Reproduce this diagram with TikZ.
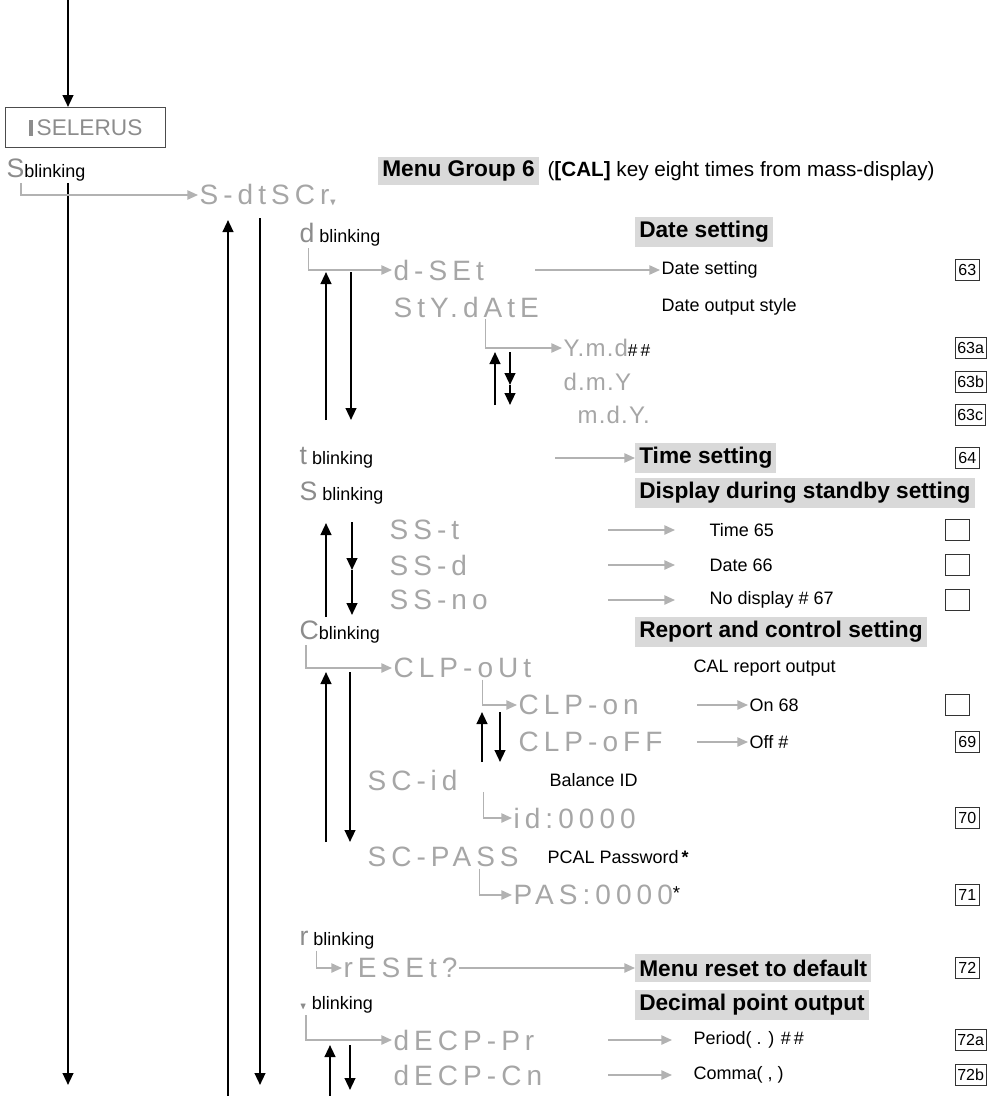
\documentclass[tikz,border=0pt]{standalone}
\usepackage{amssymb}
\usepackage{fontspec}
\setmainfont{Liberation Sans}
\usetikzlibrary{arrows.meta}
\tikzstyle{txt} = [anchor=west, inner sep=1pt, font=\fontsize{13.5}{15}\selectfont]
\tikzstyle{seg} = [anchor=west, inner sep=1pt, text=black!35, font=\fontsize{21}{22}\selectfont\addfontfeatures{LetterSpace=18}]
\tikzstyle{head} = [anchor=west, inner sep=3pt, fill=black!15, font=\fontsize{17}{18}\selectfont\bfseries, minimum height=21pt]
\tikzstyle{num} = [anchor=west, draw=black!80, inner sep=1.5pt, minimum width=18pt, minimum height=16pt, font=\fontsize{12}{13}\selectfont]
\tikzstyle{arrow} = [line width=1.6pt, -{Triangle[length=9pt,width=8pt]}]
\tikzstyle{garrow} = [line width=1.2pt, black!30, -{Triangle[length=8pt,width=7pt]}]

\begin{document}
\begin{tikzpicture}[x=0.75pt, y=-0.75pt]
	\useasboundingbox (0,0) rectangle (1001,1096);
	% left column
	\coordinate (top) at (68,0);
	\node (select) [draw=black!70, line width=1pt, anchor=north west, minimum width=120pt, minimum height=30pt, text=black!45, font=\fontsize{17}{18}\selectfont] at (5,107) {\rule{3pt}{12pt}\,SELERUS};
	\node (sblink) [txt] at (5,170) {\textcolor{black!45}{\fontsize{20}{20}\selectfont S}blinking};
	\coordinate (mainend) at (68,1085);
	\draw [arrow] (top) -- (select.north -| top);
	\draw [arrow] (sblink.south -| top) -- (mainend);
	
	% menu group 6
	\node (menu) [head] at (378,171) {Menu Group 6};
	\node (menunote) [txt, font=\fontsize{15.5}{17}\selectfont] at (546,171) {(\textbf{[CAL]} key eight times from mass-display)};
	\node (dtscr) [seg] at (198,195) {S-dtSCr\raisebox{-1pt}{\scriptsize$\blacktriangledown$}};
	\draw [garrow] ([xshift=12pt]sblink.south west) |- (dtscr.west);
	\coordinate (upa) at (228,1096);
	\coordinate (upb) at (228,220);
	\coordinate (dna) at (260,218);
	\coordinate (dnb) at (260,1085);
	\draw [arrow] (upa) -- (upb);
	\draw [arrow] (dna) -- (dnb);
	
	% date setting
	\node (dblink) [txt] at (298,235) {\textcolor{black!45}{\fontsize{20}{20}\selectfont d} blinking};
	\node (dhead) [head] at (635,232) {Date setting};
	\node (dset) [seg] at (392,270) {d-SEt};
	\node (dsettxt) [txt] at (660,270) {Date setting};
	\node (n63) [num] at (955,270) {63};
	\node (stydate) [seg] at (392,307) {StY.dAtE};
	\node (stytxt) [txt] at (660,307) {Date output style};
	\node (ymd) [seg, font=\fontsize{18}{18}\selectfont\addfontfeatures{LetterSpace=5}] at (562,348) {Y.m.d\textcolor{black}{\fontsize{13}{13}\selectfont\#\,\#}};
	\node (dmy) [seg, font=\fontsize{18}{18}\selectfont\addfontfeatures{LetterSpace=5}] at (562,382) {d.m.Y};
	\node (mdy) [seg, font=\fontsize{18}{18}\selectfont\addfontfeatures{LetterSpace=5}] at (576,415) {m.d.Y.};
	\node (n63a) [num] at (955,348) {63a};
	\node (n63b) [num] at (955,382) {63b};
	\node (n63c) [num] at (955,415) {63c};
	\draw [garrow] ([xshift=8pt]dblink.south west) |- (dset.west);
	\draw [garrow] (535,270) -- (dsettxt.west);
	\draw [garrow] ([xshift=70pt]stydate.south west) |- (ymd.west);
	\draw [arrow] (326,420) -- (326,272);
	\draw [arrow] (351,272) -- (351,420);
	\draw [arrow] (495,405) -- (495,352);
	\draw [arrow] (510,352) -- (510,385);
	\draw [arrow] (510,385) -- (510,405);
	
	% time setting
	\node (tblink) [txt] at (298,458) {\textcolor{black!45}{\fontsize{20}{20}\selectfont t} blinking};
	\node (thead) [head] at (635,458) {Time setting};
	\node (n64) [num] at (955,458) {64};
	\draw [garrow] (555,458) -- (thead.west);
	
	% standby display
	\node (sblink2) [txt] at (298,493) {\textcolor{black!45}{\fontsize{20}{20}\selectfont S} blinking};
	\node (shead) [head] at (635,493) {Display during standby setting};
	\node (sst) [seg] at (388,530) {SS-t};
	\node (ssd) [seg] at (388,565) {SS-d};
	\node (ssno) [seg] at (388,600) {SS-no};
	\node (sstt) [txt] at (708,530) {Time 65};
	\node (ssdt) [txt] at (708,565) {Date 66};
	\node (ssnot) [txt] at (708,600) {No display \# 67};
	\foreach \y in {530,565,600} {
		\node [num] at (945,\y) {};
		\draw [garrow] (608,\y) -- (675,\y);
	}
	\draw [arrow] (326,617) -- (326,523);
	\draw [arrow] (352,522) -- (352,570);
	\draw [arrow] (352,570) -- (352,615);
	
	% report and control
	\node (cblink) [txt] at (298,632) {\textcolor{black!45}{\fontsize{20}{20}\selectfont C}blinking};
	\node (chead) [head] at (635,632) {Report and control setting};
	\node (clpout) [seg] at (392,668) {CLP-oUt};
	\node (clptxt) [txt] at (692,668) {CAL report output};
	\node (clpon) [seg] at (517,705) {CLP-on};
	\node (clpoff) [seg] at (517,742) {CLP-oFF};
	\node (ontxt) [txt] at (748,705) {On 68};
	\node (offtxt) [txt] at (748,742) {Off \#};
	\node (n68) [num] at (945,705) {};
	\node (n69) [num] at (955,742) {69};
	\draw [garrow] ([xshift=6pt]cblink.south west) |- (clpout.west);
	\draw [garrow] ([xshift=68pt]clpout.south west) |- (clpon.west);
	\draw [garrow] (697,705) -- (ontxt.west);
	\draw [garrow] (697,742) -- (offtxt.west);
	\draw [arrow] (482,762) -- (482,712);
	\draw [arrow] (500,712) -- (500,762);
	\node (scid) [seg] at (366,780) {SC-\,id};
	\node (scidtxt) [txt] at (548,780) {Balance ID};
	\node (id) [seg] at (512,818) {id:0000};
	\node (n70) [num] at (955,818) {70};
	\draw [garrow] ([xshift=88pt]scid.south west) |- (id.west);
	\node (scpass) [seg] at (366,857) {SC-PASS};
	\node (scpasstxt) [txt] at (546,857) {PCAL Password\,\textbf{*}};
	\node (pas) [seg] at (512,895) {PAS:0000\textcolor{black}{\raisebox{4pt}{\fontsize{14}{14}\selectfont*}}};
	\node (n71) [num] at (955,895) {71};
	\draw [garrow] ([xshift=85pt]scpass.south west) |- (pas.west);
	\draw [arrow] (326,842) -- (326,672);
	\draw [arrow] (350,672) -- (350,842);
	
	% reset
	\node (rblink) [txt] at (298,940) {\textcolor{black!45}{\fontsize{20}{20}\selectfont r} blinking};
	\node (reset) [seg] at (342,968) {rESEt?};
	\node (rhead) [head] at (635,968) {Menu reset to default};
	\node (n72) [num] at (955,968) {72};
	\draw [garrow] ([xshift=14pt]rblink.south west) |- (reset.west);
	\draw [garrow] (reset.east) -- (rhead.west);
	
	% decimal point
	\node (pblink) [txt] at (298,1005) {\textcolor{black!45}{\scriptsize$\blacktriangledown$} blinking};
	\node (phead) [head] at (635,1005) {Decimal point output};
	\node (decpr) [seg] at (392,1040) {dECP-Pr};
	\node (decpc) [seg] at (392,1075) {dECP-Cn};
	\node (pertxt) [txt] at (692,1040) {Period( . ) \#\,\#};
	\node (comtxt) [txt] at (692,1075) {Comma( , )};
	\node (n72a) [num] at (955,1040) {72a};
	\node (n72b) [num] at (955,1075) {72b};
	\draw [garrow] ([xshift=6pt]pblink.south west) |- (decpr.west);
	\draw [garrow] (608,1040) -- (672,1040);
	\draw [garrow] (608,1075) -- (672,1075);
	\draw [arrow] (330,1096) -- (330,1045);
	\draw [arrow] (350,1045) -- (350,1090);
\end{tikzpicture}
\end{document}
